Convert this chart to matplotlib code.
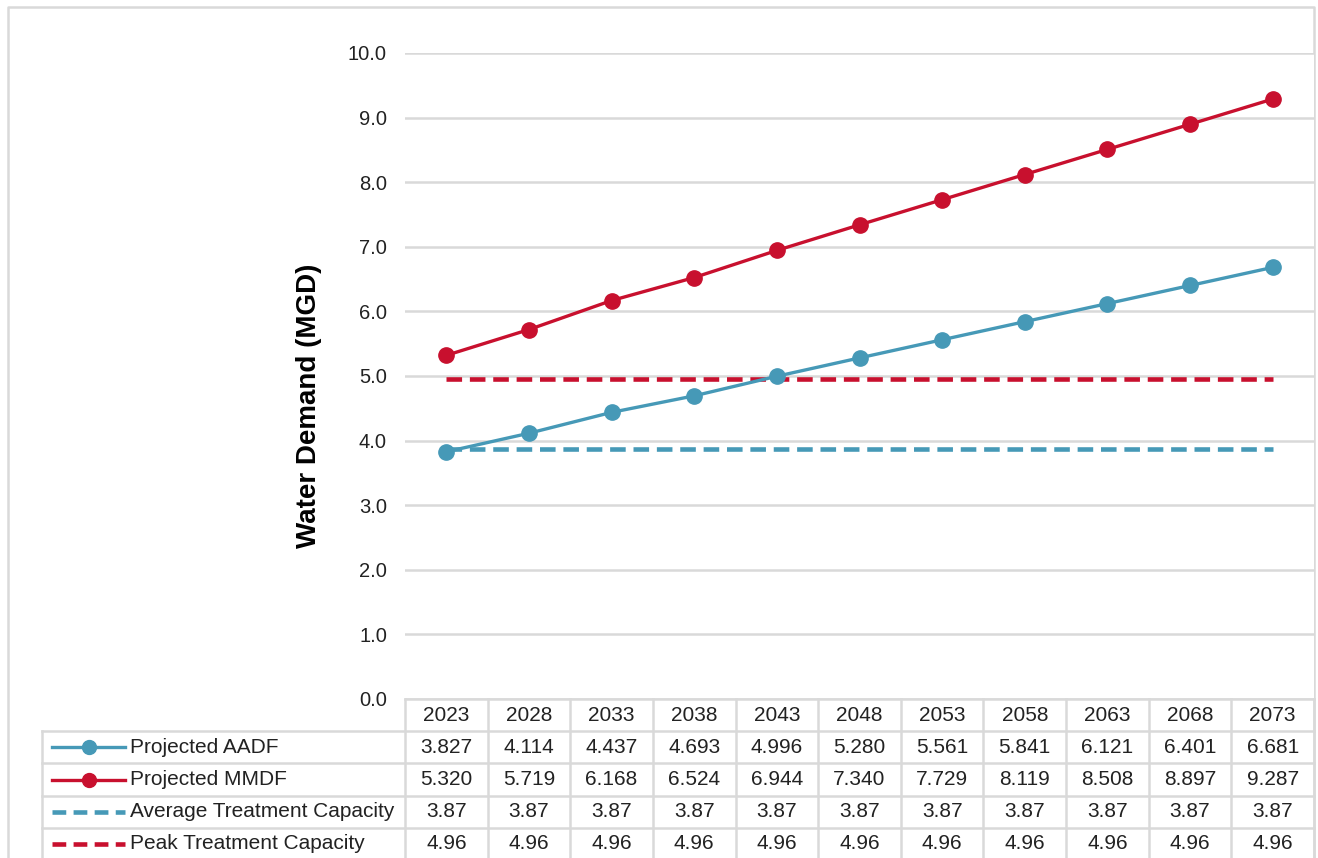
import matplotlib.pyplot as plt
from matplotlib.lines import Line2D

plt.rcParams['font.family'] = ['Liberation Sans', 'DejaVu Sans']

# Projected demand (MGD) by planning year
years = [2023, 2028, 2033, 2038, 2043, 2048, 2053, 2058, 2063, 2068, 2073]
aadf = [3.827, 4.114, 4.437, 4.693, 4.996, 5.280, 5.561, 5.841, 6.121, 6.401, 6.681]
mmdf = [5.320, 5.719, 6.168, 6.524, 6.944, 7.340, 7.729, 8.119, 8.508, 8.897, 9.287]
avg_capacity = [3.87, 3.87, 3.87, 3.87, 3.87, 3.87, 3.87, 3.87, 3.87, 3.87, 3.87]
peak_capacity = [4.96, 4.96, 4.96, 4.96, 4.96, 4.96, 4.96, 4.96, 4.96, 4.96, 4.96]

series_names = ['Projected AADF', 'Projected MMDF',
                'Average Treatment Capacity', 'Peak Treatment Capacity']
yticks = [0, 1, 2, 3, 4, 5, 6, 7, 8, 9, 10]

BLUE = '#4699B7'
RED = '#C8102E'
GRID = '#D9D9D9'
TXT = '#222222'

W, H = 1318, 858
fig = plt.figure(figsize=(W / 100, H / 100), dpi=100)

# pixel layout
left, right = 405, 1314
top, bottom = 53, 699
row_h = 32.2
col_w = (right - left) / len(years)

ax = fig.add_axes([left / W, 1 - bottom / H, (right - left) / W, (bottom - top) / H])
x = list(range(len(years)))

styles = [
    dict(data=aadf, color=BLUE, ls='-', marker='o'),
    dict(data=mmdf, color=RED, ls='-', marker='o'),
    dict(data=avg_capacity, color=BLUE, ls='--', marker=None),
    dict(data=peak_capacity, color=RED, ls='--', marker=None),
]

for s in styles:
    if s['ls'] == '-':
        ax.plot(x, s['data'], color=s['color'], lw=2.4, marker='o', ms=11, zorder=4)
    else:
        ax.plot(x, s['data'], color=s['color'], lw=3.3, dashes=(3.4, 1.7), zorder=3)

ax.set_xlim(-0.5, len(years) - 0.5)
ax.set_ylim(0, 10)
ax.set_yticks(yticks)
ax.set_yticklabels([f'{v:.1f}' for v in yticks], fontsize=14.5, color=TXT)
ax.tick_params(axis='y', length=0, pad=13)
ax.set_xticks([])
for v in yticks:
    ax.axhline(v, color=GRID, lw=1.8, zorder=1)
for sp in ax.spines.values():
    sp.set_visible(False)

fig.text(309 / W, 1 - 406 / H, 'Water Demand (MGD)', rotation=90, ha='center',
         va='center', fontsize=20, fontweight='bold', color='black')

# data table under the chart, sharing the category axis
n_rows = len(series_names) + 1
tab = fig.add_axes([left / W, 1 - (bottom + n_rows * row_h) / H,
                    (right - left) / W, n_rows * row_h / H], sharex=ax)
tab.set_ylim(n_rows, 0)
tab.axis('off')


def px2x(px):
    return -0.5 + (px - left) / col_w


lab_left = px2x(42)
n = len(years)
FS = 15

# horizontal rules
tab.plot([-0.5, n - 0.5], [0, 0], color=GRID, lw=1.8, clip_on=False)
for r in range(1, n_rows + 1):
    tab.plot([lab_left, n - 0.5], [r, r], color=GRID, lw=1.8, clip_on=False)
# vertical rules
for c in range(n + 1):
    tab.plot([c - 0.5, c - 0.5], [0, n_rows], color=GRID, lw=1.8, clip_on=False)
tab.plot([lab_left, lab_left], [1, n_rows], color=GRID, lw=1.8, clip_on=False)

for i, yr in enumerate(years):
    tab.text(i, 0.5, str(yr), ha='center', va='center', fontsize=FS, color=TXT)

for r, (name, s) in enumerate(zip(series_names, styles), start=1):
    fmt = '{:.3f}' if s['marker'] else '{:.2f}'
    for i, v in enumerate(s['data']):
        tab.text(i, r + 0.5, fmt.format(v), ha='center', va='center',
                 fontsize=FS, color=TXT)
    k0, k1 = px2x(52), px2x(125)
    if s['marker']:
        tab.add_line(Line2D([k0, k1], [r + 0.5, r + 0.5], color=s['color'], lw=2.4,
                            clip_on=False))
        tab.add_line(Line2D([(k0 + k1) / 2], [r + 0.5], color=s['color'], marker='o',
                            ms=10, clip_on=False))
    else:
        tab.add_line(Line2D([k0, k1], [r + 0.5, r + 0.5], color=s['color'], lw=3.3,
                            dashes=(3.0, 1.6), clip_on=False))
    tab.text(px2x(130), r + 0.5, name, ha='left', va='center', fontsize=FS, color=TXT)

# thin frame around the whole graphic
frame = fig.add_axes([0, 0, 1, 1], zorder=-1)
frame.set_xlim(0, W)
frame.set_ylim(H, 0)
frame.axis('off')
frame.plot([8, 8, 1314, 1314], [H + 5, 7, 7, H + 5], color=GRID, lw=1.8)

fig.savefig('out.png', dpi=100)
